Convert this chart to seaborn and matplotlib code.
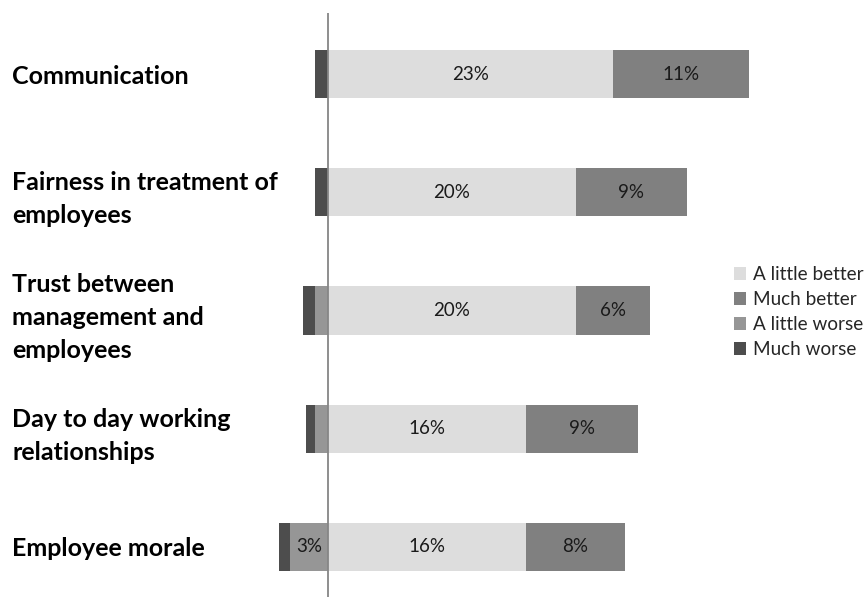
import matplotlib
matplotlib.use("Agg")
import matplotlib.pyplot as plt
from matplotlib.patches import Patch
import seaborn as sns
import pandas as pd

# Survey categories and percentage shares per answer
categories = [
    "Communication",
    "Fairness in treatment of\nemployees",
    "Trust between\nmanagement and\nemployees",
    "Day to day working\nrelationships",
    "Employee morale",
]
a_little_better = [23, 20, 20, 16, 16]
much_better = [11, 9, 6, 9, 8]
a_little_worse = [0, 0, 1, 1, 3]
much_worse = [1, 1, 1, 0.75, 1]

series_names = ["A little better", "Much better", "A little worse", "Much worse"]
colors = {
    "A little better": "#DDDDDD",
    "Much better": "#808080",
    "A little worse": "#969696",
    "Much worse": "#4D4D4D",
}

df = pd.DataFrame({
    "category": categories,
    "better": a_little_better,
    "much_better": much_better,
    "worse": a_little_worse,
    "much_worse": much_worse,
})
df["pos_total"] = df["better"] + df["much_better"]
df["neg_total"] = -(df["worse"] + df["much_worse"])
df["neg_inner"] = -df["worse"]

sns.set_theme(style="white")
plt.rcParams["font.family"] = ["Lato", "DejaVu Sans"]

fig = plt.figure(figsize=(8.65, 5.98), dpi=100)
W, H = 865, 598
ax = fig.add_axes([279 / W, 1 / H, (760 - 279) / W, (597 - 13) / H])

bar_h = 0.406
# Stacked layers drawn from the outermost cumulative extent inwards
layers = [
    ("pos_total", colors["Much better"]),
    ("better", colors["A little better"]),
    ("neg_total", colors["Much worse"]),
    ("neg_inner", colors["A little worse"]),
]
for col, c in layers:
    sns.barplot(data=df, x=col, y="category", orient="h", color=c,
                width=bar_h, ax=ax, saturation=1, linewidth=0)

x0 = -(327.5 - 279) / 12.4
x1 = (760 - 327.5) / 12.4
ax.set_xlim(x0, x1)
ax.set_ylim(4.423, -0.516)

ax.axvline(0, color="#868686", lw=1.3, zorder=5)

# Segment value labels
val_fs = 13.5
for i, row in df.iterrows():
    ax.text(row["better"] / 2, i, f"{row['better']:g}%", ha="center", va="center",
            fontsize=val_fs, color="#1a1a1a", zorder=6)
    ax.text(row["better"] + row["much_better"] / 2, i, f"{row['much_better']:g}%",
            ha="center", va="center", fontsize=val_fs, color="#1a1a1a", zorder=6)
    if row["worse"] >= 2:
        ax.text(-row["worse"] / 2, i, f"{row['worse']:g}%", ha="center", va="center",
                fontsize=val_fs, color="#1a1a1a", zorder=6)

ax.set_xlabel("")
ax.set_ylabel("")
ax.set_xticks([])
for s in ax.spines.values():
    s.set_visible(False)
ax.tick_params(axis="y", length=0, pad=(279 - 12) * 0.72)
for lbl in ax.get_yticklabels():
    lbl.set_ha("left")
    lbl.set_fontweight("bold")
    lbl.set_fontsize(18)
    lbl.set_color("#000000")
    lbl.set_linespacing(1.52)

handles = [Patch(facecolor=colors[n], edgecolor="none", label=n) for n in series_names]
fig.legend(handles=handles, loc="upper left", bbox_to_anchor=(734 / W, 1 - 266 / H),
           frameon=False, fontsize=13.6, handlelength=0.65, handleheight=0.65,
           handletextpad=0.35, labelspacing=0.43, borderpad=0, borderaxespad=0)

fig.savefig("out.png", dpi=100)
